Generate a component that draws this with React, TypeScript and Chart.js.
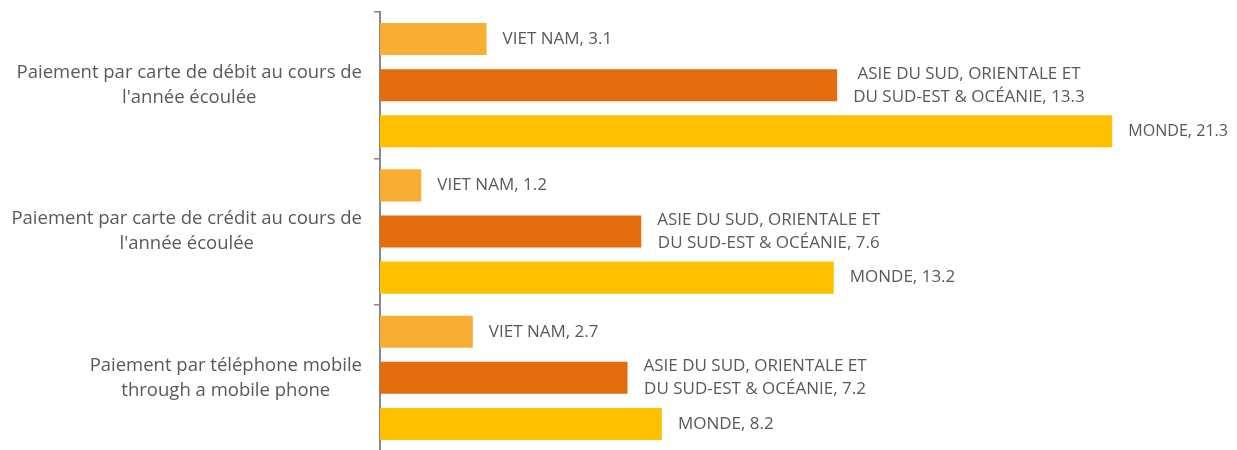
import React, { useEffect, useRef } from "react";
import { Chart, registerables } from "chart.js";

Chart.register(...registerables);

const categories: string[][] = [
  ["Paiement par carte de débit au cours de", "l'année écoulée"],
  ["Paiement par carte de crédit au cours de", "l'année écoulée"],
  ["Paiement par téléphone mobile", "through a mobile phone"],
];

const seriesNames: string[] = ["VIET NAM", "ASIE DU SUD, ORIENTALE ET DU SUD-EST & OCÉANIE", "MONDE"];
const seriesLabelLines: string[][] = [
  ["VIET NAM"],
  ["ASIE DU SUD, ORIENTALE ET", "DU SUD-EST & OCÉANIE"],
  ["MONDE"],
];
const vietNam: number[] = [3.1, 1.2, 2.7];
const asie: number[] = [13.3, 7.6, 7.2];
const monde: number[] = [21.3, 13.2, 8.2];

const colors = ["#F7AE33", "#E36C0C", "#FFC000"];
const FONT = "'Open Sans', sans-serif";
const TEXT_COLOR = "#595959";

const labelPlugin = {
  id: "customLabels",
  afterDraw(chart: any) {
    const ctx = chart.ctx;
    const yScale = chart.scales.y;
    ctx.save();
    ctx.fillStyle = TEXT_COLOR;
    ctx.textBaseline = "middle";
    ctx.textAlign = "center";
    // category labels
    ctx.font = `18.5px ${FONT}`;
    const rightEdge = chart.chartArea.left - 18;
    categories.forEach((lines, i) => {
      const cy = yScale.getPixelForValue(i);
      const w = Math.max(...lines.map((l) => ctx.measureText(l).width));
      const cx = rightEdge - w / 2;
      const lh = 25;
      lines.forEach((l, j) => {
        ctx.fillText(l, cx, cy + (j - (lines.length - 1) / 2) * lh);
      });
    });
    // data labels
    ctx.font = `17px ${FONT}`;
    const limit = chart.width - 1;
    chart.data.datasets.forEach((ds: any, di: number) => {
      const meta = chart.getDatasetMeta(di);
      meta.data.forEach((bar: any, i: number) => {
        const v = ds.data[i];
        const lines = seriesLabelLines[di].slice();
        lines[lines.length - 1] = lines[lines.length - 1] + ", " + v.toFixed(1);
        const start = bar.x + 16;
        let w = Math.max(...lines.map((l: string) => ctx.measureText(l).width));
        let maxW: number | undefined = undefined;
        if (start + w > limit) {
          maxW = limit - start;
          w = maxW;
        }
        const cx = start + w / 2;
        const lh = 23;
        lines.forEach((l: string, j: number) => {
          const y = bar.y + (j - (lines.length - 1) / 2) * lh;
          if (maxW !== undefined) ctx.fillText(l, cx, y, maxW);
          else ctx.fillText(l, cx, y);
        });
      });
    });
    ctx.restore();
  },
};

export default function App() {
  const ref = useRef<HTMLCanvasElement | null>(null);
  useEffect(() => {
    if (!ref.current) return;
    const chart = new Chart(ref.current, {
      type: "bar",
      data: {
        labels: categories.map((c) => c.join(" ")),
        datasets: [
          { label: seriesNames[0], data: vietNam, backgroundColor: colors[0] },
          { label: seriesNames[1], data: asie, backgroundColor: colors[1] },
          { label: seriesNames[2], data: monde, backgroundColor: colors[2] },
        ],
      },
      options: {
        indexAxis: "y",
        responsive: false,
        animation: false,
        categoryPercentage: 0.945,
        barPercentage: 0.696,
        layout: { padding: { top: 4, bottom: 3, right: 24, left: 0 } },
        plugins: { legend: { display: false }, tooltip: { enabled: false } },
        scales: {
          x: { display: false, min: 0, max: 24 },
          y: {
            afterFit(scale: any) {
              scale.width = 372;
            },
            ticks: { display: false },
            grid: {
              offset: true,
              drawOnChartArea: false,
              drawTicks: true,
              tickLength: 6,
              color: "#888888",
              lineWidth: 1.5,
            },
            border: { color: "#888888", width: 2 },
          },
        },
      },
      plugins: [labelPlugin],
    });
    return () => chart.destroy();
  }, []);
  return (
    <div style={{ width: 1221, height: 446 }}>
      <canvas ref={ref} width={1221} height={446} style={{ display: "block" }} />
    </div>
  );
}
